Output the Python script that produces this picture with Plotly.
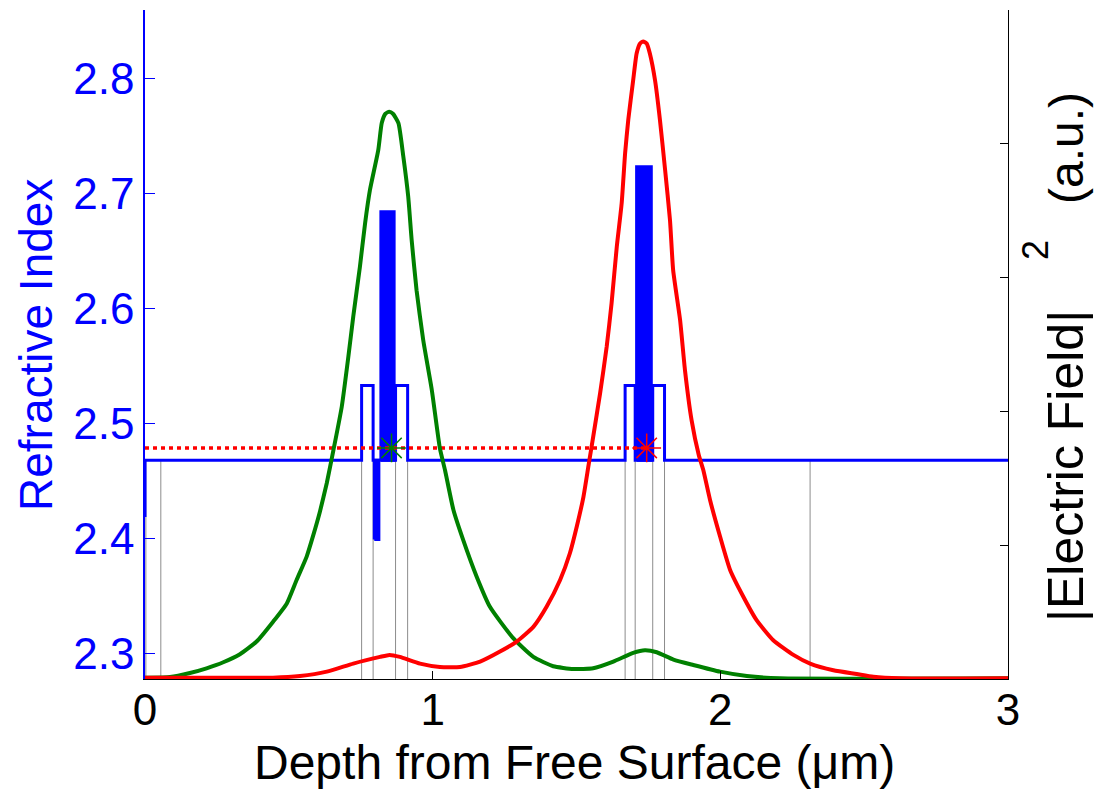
import plotly.graph_objects as go

# ---------------- data ----------------
# refractive index profile (step line)
index_x = [0.0, 0.0, 0.753, 0.753, 0.793, 0.793, 0.871, 0.871, 0.913, 0.913,
           1.669, 1.669, 1.704, 1.704, 1.765, 1.765, 1.806, 1.806, 3.0]
index_n = [2.4185, 2.468, 2.468, 2.533, 2.533, 2.468, 2.468, 2.533, 2.533, 2.468,
           2.468, 2.533, 2.533, 2.468, 2.468, 2.533, 2.533, 2.468, 2.468]

# dense superlattice regions (drawn as solid blocks)
sl_x0 = [0.797, 0.820, 1.709]
sl_x1 = [0.813, 0.866, 1.760]
sl_nlo = [2.399, 2.468, 2.468]
sl_nhi = [2.468, 2.684, 2.723]

# layer interfaces (thin grey lines)
iface_x = [0.003, 0.055, 0.753, 0.793, 0.871, 0.913, 1.669, 1.704, 1.765, 1.806, 2.312]
iface_top = 2.468

# effective index markers (mode 1 green, mode 2 red)
mark_x = [0.857, 1.744]
mark_n = [2.4786, 2.4786]

# |E|^2 of mode 1 (green)
green_x = [0.0, 0.087, 0.156, 0.214, 0.272, 0.330, 0.388, 0.446, 0.493, 0.527,
           0.562, 0.585, 0.608, 0.632, 0.655, 0.684, 0.707, 0.724, 0.747, 0.765,
           0.782, 0.811, 0.823, 0.836, 0.849, 0.862, 0.881, 0.898, 0.915, 0.927,
           0.944, 0.967, 0.997, 1.025, 1.043, 1.072, 1.106, 1.153, 1.199, 1.280,
           1.350, 1.419, 1.489, 1.558, 1.628, 1.697, 1.738, 1.779, 1.837, 1.906,
           1.999, 2.092, 2.207, 3.0]
green_f = [0.002, 0.003, 0.009, 0.016, 0.025, 0.037, 0.056, 0.086, 0.113, 0.148,
           0.183, 0.215, 0.250, 0.293, 0.342, 0.407, 0.482, 0.542, 0.616, 0.681,
           0.731, 0.791, 0.831, 0.845, 0.848, 0.845, 0.831, 0.781, 0.721, 0.656,
           0.581, 0.507, 0.432, 0.345, 0.312, 0.253, 0.208, 0.153, 0.108, 0.061,
           0.033, 0.019, 0.015, 0.016, 0.026, 0.039, 0.043, 0.040, 0.029, 0.021,
           0.011, 0.0045, 0.001, 0.001]

# |E|^2 of mode 2 (red)
red_x = [0.0, 0.445, 0.539, 0.632, 0.724, 0.817, 0.85, 0.886, 0.956, 1.025,
         1.095, 1.165, 1.234, 1.292, 1.350, 1.396, 1.443, 1.477, 1.501, 1.524,
         1.541, 1.558, 1.582, 1.605, 1.622, 1.640, 1.657, 1.669, 1.680, 1.697,
         1.709, 1.721, 1.732, 1.744, 1.755, 1.773, 1.790, 1.808, 1.825, 1.836,
         1.860, 1.877, 1.900, 1.925, 1.941, 1.964, 1.999, 2.034, 2.080, 2.126,
         2.184, 2.254, 2.312, 2.393, 2.474, 2.532, 2.625, 3.0]
red_f = [0.002, 0.002, 0.0045, 0.011, 0.023, 0.033, 0.036, 0.033, 0.023, 0.018,
         0.018, 0.026, 0.041, 0.056, 0.078, 0.108, 0.148, 0.188, 0.228, 0.272,
         0.317, 0.362, 0.427, 0.497, 0.562, 0.646, 0.711, 0.786, 0.836, 0.895,
         0.935, 0.950, 0.953, 0.950, 0.935, 0.895, 0.836, 0.761, 0.686, 0.611,
         0.537, 0.462, 0.387, 0.335, 0.312, 0.268, 0.213, 0.163, 0.123, 0.088,
         0.058, 0.036, 0.023, 0.013, 0.0075, 0.0034, 0.001, 0.001]

x_ticks = [0, 1, 2, 3]
n_ticks = [2.3, 2.4, 2.5, 2.6, 2.7, 2.8]
n_tick_text = ["2.3", "2.4", "2.5", "2.6", "2.7", "2.8"]
f_ticks = [0, 0.2, 0.4, 0.6, 0.8, 1.0]

N_RANGE = [2.2777, 2.8594]
F_RANGE = [0, 1]

FONT = "Arial, Liberation Sans, sans-serif"
BLUE = "rgb(0,0,255)"
GREEN = "rgb(0,128,0)"
RED = "rgb(255,0,0)"

PL, PR, PT, PB = 145, 1008, 10, 679  # plot-area pixel box
def px_x(p):
    return (p - PL) / (PR - PL)
def px_y(p):
    return (PB - p) / (PB - PT)

fig = go.Figure()

# grey interface lines
gx, gy = [], []
for xv in iface_x:
    gx += [xv, xv, None]
    gy += [N_RANGE[0], iface_top, None]
fig.add_trace(go.Scatter(x=gx, y=gy, mode="lines",
                         line=dict(color="rgb(140,140,140)", width=1),
                         hoverinfo="skip", showlegend=False))

# index profile
fig.add_trace(go.Scatter(x=index_x, y=index_n, mode="lines",
                         line=dict(color=BLUE, width=3), showlegend=False))

# superlattice blocks
for x0, x1, lo, hi in zip(sl_x0, sl_x1, sl_nlo, sl_nhi):
    fig.add_trace(go.Scatter(x=[x0, x1, x1, x0, x0], y=[lo, lo, hi, hi, lo],
                             mode="lines", fill="toself", fillcolor=BLUE,
                             line=dict(color=BLUE, width=3), showlegend=False))

# effective index dotted line
fig.add_trace(go.Scatter(x=[0, mark_x[1]], y=[mark_n[1], mark_n[1]], mode="lines",
                         line=dict(color=RED, width=3.5, dash="4px,4px"),
                         showlegend=False))

# asterisk markers
for xv, nv, col in zip(mark_x, mark_n, [GREEN, RED]):
    fig.add_trace(go.Scatter(x=[xv], y=[nv], mode="markers",
                             marker=dict(symbol="asterisk-open", size=24, color=col,
                                         line=dict(color=col, width=1.5)),
                             showlegend=False))

# field curves on right axis
fig.add_trace(go.Scatter(x=green_x, y=green_f, yaxis="y2", mode="lines",
                         line=dict(color=GREEN, width=4, shape="spline", smoothing=0.5),
                         showlegend=False))
fig.add_trace(go.Scatter(x=red_x, y=red_f, yaxis="y2", mode="lines",
                         line=dict(color=RED, width=4, shape="spline", smoothing=0.5),
                         showlegend=False))

fig.update_layout(
    width=1097, height=789,
    margin=dict(l=PL, r=1097 - PR, t=PT, b=789 - PB),
    paper_bgcolor="white", plot_bgcolor="white",
    font=dict(family=FONT, size=44, color="black"),
    showlegend=False,
    xaxis=dict(range=[0, 3], tickvals=x_ticks, ticks="inside", ticklen=8,
               tickcolor="black", showline=True, linecolor="black", linewidth=1,
               showgrid=False, zeroline=False, ticklabelstandoff=-8,
               tickfont=dict(family=FONT, size=44, color="black")),
    yaxis=dict(range=N_RANGE, tickvals=n_ticks, ticktext=n_tick_text,
               ticks="inside", ticklen=10, tickcolor=BLUE, showline=True,
               linecolor=BLUE, linewidth=1.5, showgrid=False, zeroline=False,
               ticklabelstandoff=0,
               tickfont=dict(family=FONT, size=44, color=BLUE)),
    yaxis2=dict(range=F_RANGE, tickvals=f_ticks, overlaying="y", side="right",
                ticks="inside", ticklen=8, tickcolor="black", showline=True,
                linecolor="black", linewidth=1, showgrid=False, zeroline=False,
                showticklabels=False),
    annotations=[
        dict(text="Refractive Index", xref="paper", yref="paper",
             x=px_x(36), y=px_y(345), showarrow=False,
             textangle=-90, font=dict(family=FONT, size=46, color=BLUE),
             xanchor="center", yanchor="middle"),
        dict(text="Depth from Free Surface (\u03bcm)", xref="paper", yref="paper",
             x=px_x(574), y=px_y(762), showarrow=False,
             font=dict(family=FONT, size=48, color="black"),
             xanchor="center", yanchor="middle"),
        dict(text="|Electric Field|", xref="paper", yref="paper",
             x=px_x(1066), y=px_y(466), showarrow=False,
             textangle=-90, font=dict(family=FONT, size=50, color="black"),
             xanchor="center", yanchor="middle"),
        dict(text="2", xref="paper", yref="paper",
             x=px_x(1035), y=px_y(250), showarrow=False,
             textangle=-90, font=dict(family=FONT, size=36, color="black"),
             xanchor="center", yanchor="middle"),
        dict(text="(a.u.)", xref="paper", yref="paper",
             x=px_x(1066), y=px_y(148), showarrow=False,
             textangle=-90, font=dict(family=FONT, size=48, color="black"),
             xanchor="center", yanchor="middle"),
    ],
)

fig.write_html("out.html")
